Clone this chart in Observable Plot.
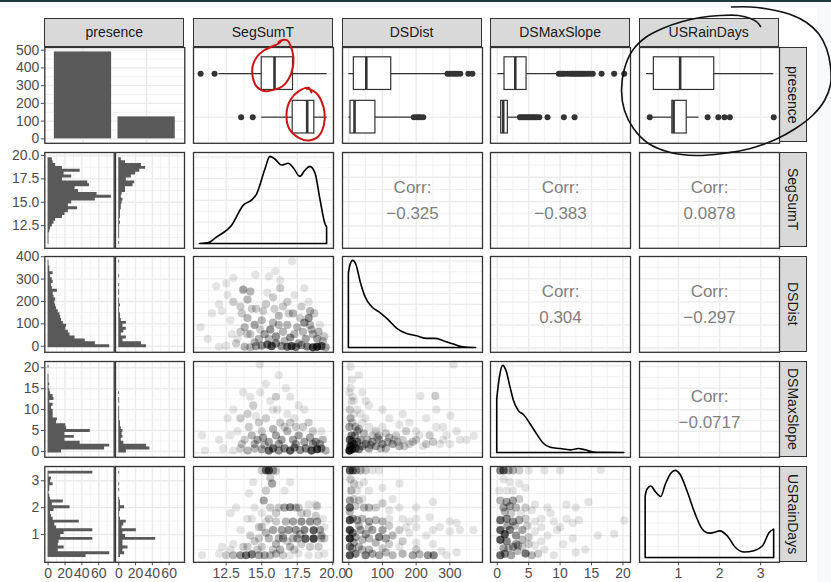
<!DOCTYPE html>
<html>
<head>
<meta charset="utf-8">
<title>ggpairs scatterplot matrix</title>
<script src="https://cdn.jsdelivr.net/npm/d3@7"></script>
<script src="https://cdn.jsdelivr.net/npm/@observablehq/plot@0.6"></script>
<style>
html, body { margin: 0; padding: 0; background: #f8f9fa; overflow: hidden; }
#root { position: absolute; left: 0; top: 0; width: 831px; height: 582px; font-family: "Liberation Sans", Arial, Helvetica, sans-serif; }
#topbar { position: absolute; left: 0; top: 0; width: 831px; height: 2px; background: #1f3a3f; }
#sheet { position: absolute; left: 0; top: 8px; width: 817px; height: 574px; background: #ffffff; }
.strip { position: absolute; box-sizing: border-box; background: #d9d9d9; border: 1.3px solid #333333; display: flex; align-items: center; justify-content: center; font-size: 14px; color: #1a1a1a; }
.strip.v span { writing-mode: vertical-rl; }
</style>
</head>
<body>
<div id="root"><div id="topbar"></div><div id="sheet"></div></div>
<script>
// ---------------- DATA ----------------
const stripLabels = ["presence", "SegSumT", "DSDist", "DSMaxSlope", "USRainDays"];
const variables = ["SegSumT", "DSDist", "DSMaxSlope", "USRainDays"];

// presence bar chart
const presenceLevels = ["0", "1"];
const presenceCounts = [490, 124];

// boxplot stats [lower whisker, q1, median, q3, upper whisker]; first = presence 0, second = presence 1
const boxSegSumT = [[12.0, 15.0, 15.9, 17.2, 19.6], [15.0, 17.18, 18.2, 18.7, 19.6]];
const boxDSDist = [[0.2, 15, 52, 126, 287], [0.2, 5, 17, 79, 188]];
const boxDSMaxSlope = [[0.1, 1.16, 2.87, 4.67, 9.65], [0.1, 0.63, 0.95, 1.69, 3.44]];
const boxUSRainDays = [[0.22, 0.40, 1.04, 1.87, 3.32], [0.30, 0.85, 0.88, 1.20, 1.50]];

// boxplot outliers
const outSegSumT = [[10.7, 11.68], [13.55, 14.37]];
const outDSDist = [[293, 300, 308, 315, 322, 331, 355, 367], [193, 201, 207, 213, 221]];
const outDSMaxSlope = [[9.8, 10.1, 10.4, 10.7, 11.2, 11.6, 11.9, 12.2, 12.5, 12.8, 13.1, 13.4, 13.7, 14.0, 14.4, 14.8, 15.2, 16.6, 18.6, 20.2],
                       [3.6, 3.9, 4.2, 4.5, 4.8, 5.1, 5.4, 5.7, 6.0, 6.3, 6.7, 8.0, 10.6, 12.3]];
const outUSRainDays = [[], [0.30, 1.71, 1.97, 2.12, 2.25, 3.32]];

// histograms (30 bins, ascending), presence 0 and presence 1
const binStart = { SegSumT: 10.65, DSDist: 0.2, DSMaxSlope: 0, USRainDays: 0.2 };
const binWidth = { SegSumT: 0.3086, DSDist: 13.03, DSMaxSlope: 0.6966, USRainDays: 0.1069 };
const histSegSumT0 = [1, 1, 1, 1, 2, 3, 5, 7, 9, 17, 20, 24, 35, 24, 28, 56, 75, 58, 36, 32, 49, 47, 17, 28, 19, 38, 17, 9, 6, 5];
const histSegSumT1 = [1, 0, 1, 1, 1, 1, 1, 2, 1, 2, 2, 2, 3, 3, 4, 5, 3, 4, 8, 8, 17, 19, 9, 15, 20, 25, 32, 27, 8, 3];
const histDSDist0 = [73, 56, 44, 32, 26, 24, 21, 22, 18, 16, 15, 14, 12, 10, 9, 8, 9, 7, 6, 11, 5, 4, 6, 5, 3, 6, 2, 2, 1, 1];
const histDSDist1 = [33, 27, 5, 9, 3, 6, 9, 5, 9, 3, 2, 2, 1, 1, 2, 1, 1, 0, 1, 1, 0, 1, 0, 0, 1, 0, 0, 0, 0, 1];
const histDSMaxSlope0 = [16, 67, 73, 38, 20, 31, 20, 50, 22, 21, 10, 11, 6, 6, 6, 4, 6, 2, 7, 6, 3, 2, 1, 2, 1, 1, 1, 0, 0, 1];
const histDSMaxSlope1 = [9, 37, 33, 6, 3, 5, 4, 5, 3, 2, 2, 1, 1, 1, 1, 1, 0, 1, 1, 0, 1, 0, 0, 0, 0, 0, 0, 0, 0, 0];
const histUSRainDays0 = [45, 73, 12, 19, 12, 13, 53, 15, 19, 53, 10, 8, 37, 6, 4, 3, 7, 26, 5, 18, 3, 2, 1, 2, 2, 6, 3, 4, 1, 53];
const histUSRainDays1 = [2, 7, 5, 11, 5, 5, 44, 8, 5, 21, 4, 6, 9, 2, 1, 1, 2, 7, 2, 2, 1, 0, 0, 1, 0, 1, 0, 0, 0, 1];

// densities [x, density]
const densSegSumT = [[10.65, 0], [11.28, 0.002], [11.87, 0.015], [12.92, 0.042], [13.74, 0.088], [14.33, 0.100], [14.68, 0.114], [15.26, 0.171], [15.61, 0.200], [15.96, 0.194], [16.43, 0.180], [16.90, 0.184], [17.25, 0.174], [17.72, 0.154], [18.07, 0.168], [18.42, 0.177], [18.78, 0.162], [19.13, 0.102], [19.48, 0.046], [19.6, 0.038]];
const densDSDist = [[0.2, 0.00684], [5, 0.0076], [13, 0.008], [23, 0.0076], [35, 0.00608], [50, 0.00464], [69, 0.00376], [94, 0.0032], [119, 0.00253], [144, 0.00176], [173, 0.00128], [203, 0.00107], [233, 0.00083], [257, 0.00083], [282, 0.00062], [312, 0.00031], [341, 0.00006], [378, 0]];
const densDSMaxSlope = [[0, 0.123], [0.42, 0.173], [0.95, 0.2], [1.48, 0.188], [2.12, 0.15], [2.65, 0.12], [3.44, 0.096], [4.24, 0.087], [5.3, 0.066], [6.37, 0.042], [7.42, 0.021], [8.49, 0.012], [10.1, 0.009], [11.67, 0.006], [13.0, 0.009], [14.06, 0.006], [15.4, 0.001], [17.5, 0.0003], [20.2, 0]];
const densUSRainDays = [[0.2, 0.53], [0.24, 0.585], [0.34, 0.615], [0.44, 0.57], [0.58, 0.525], [0.69, 0.63], [0.83, 0.728], [0.93, 0.75], [1.06, 0.71], [1.22, 0.572], [1.42, 0.373], [1.59, 0.244], [1.75, 0.209], [1.87, 0.215], [2.02, 0.229], [2.2, 0.186], [2.4, 0.086], [2.61, 0.047], [2.85, 0.058], [3.06, 0.1], [3.22, 0.215], [3.33, 0.244]];

// scatter points [x, y, overlapping count]
const scatterSegSumT_DSDist = [
  [13.8, 5, 3], [14.2, 3, 3], [14.6, 8, 4], [15.0, 10, 5], [15.4, 15, 8], [15.7, 8, 10], [16.0, 20, 6], [16.4, 8, 5], [16.8, 5, 8], [17.1, 8, 10], [17.4, 4, 7], [17.8, 12, 5], [18.2, 6, 6], [18.6, 3, 12], [18.9, 5, 14], [19.2, 8, 9], [19.5, 3, 4], [14.5, 25, 3], [13.2, 20, 2], [12.5, 10, 1], [12.0, 5, 1],
  [15.2, 60, 4], [15.6, 80, 5], [16.0, 50, 5], [16.5, 70, 3], [17.0, 45, 5], [17.5, 90, 3], [18.0, 110, 5], [18.3, 130, 5], [18.5, 80, 3], [18.9, 40, 4], [19.3, 30, 3], [14.5, 100, 4], [14.0, 130, 3], [13.5, 70, 2], [13.8, 90, 3], [15.0, 120, 3], [16.2, 140, 3], [17.2, 150, 3], [12.8, 120, 1], [12.2, 160, 1], [10.7, 90, 1], [11.5, 150, 1], [16.8, 100, 3], [15.8, 110, 3], [14.8, 40, 3], [18.6, 60, 3], [19.1, 100, 1],
  [13.0, 200, 2], [13.5, 180, 2], [14.0, 210, 3], [13.7, 253, 4], [14.2, 245, 3], [13.0, 304, 1], [11.8, 267, 1], [12.5, 280, 1], [15.3, 190, 2], [15.8, 220, 2], [16.3, 260, 2], [16.8, 200, 2], [17.3, 230, 1], [17.8, 180, 2], [18.4, 160, 3], [14.56, 318, 1], [15.5, 311, 1], [15.96, 333, 1], [17.13, 376, 1], [16.3, 295, 1], [14.6, 170, 2], [12.6, 230, 1], [18.0, 260, 1], [12.0, 190, 1],
  [13.3, 40, 1], [13.6, 150, 2], [14.0, 60, 2], [14.3, 170, 2], [14.9, 80, 2], [15.1, 160, 2], [15.5, 40, 3], [15.9, 170, 2], [16.2, 100, 3], [16.6, 30, 3], [16.9, 150, 2], [17.3, 60, 3], [17.6, 20, 4], [17.9, 70, 3], [18.1, 40, 4], [18.4, 100, 3], [18.7, 150, 2], [19.0, 70, 3], [19.4, 50, 2], [14.2, 60, 2], [12.9, 60, 1], [11.2, 40, 1], [18.3, 200, 1], [17.7, 130, 2], [16.5, 180, 2], [15.4, 240, 1]
];
const scatterSegSumT_DSMaxSlope = [
  [13.5, 1, 2], [14.0, 0.5, 3], [14.5, 1, 3], [15.0, 0.8, 4], [15.5, 0.5, 8], [15.8, 1, 8], [16.2, 0.5, 5], [16.6, 1, 6], [17.0, 0.5, 9], [17.3, 1.2, 6], [17.7, 0.6, 5], [18.1, 1, 6], [18.5, 0.5, 10], [18.9, 0.8, 12], [19.2, 1, 6], [19.5, 0.5, 3], [13.0, 0.5, 1], [12.3, 1, 1], [11.0, 0.5, 1],
  [13.8, 3, 2], [14.3, 4, 3], [14.7, 3, 4], [15.1, 3.5, 4], [15.5, 2.5, 4], [16.0, 4, 4], [16.4, 3, 4], [16.8, 5, 3], [17.2, 3, 4], [17.6, 4, 4], [18.0, 2.5, 4], [18.4, 3.5, 4], [18.8, 2.5, 5], [19.3, 3, 3], [12.8, 4, 1], [13.3, 5, 1], [12.0, 3, 1], [10.8, 4, 1], [15.8, 5.5, 3], [17.9, 6, 2],
  [13.5, 8, 2], [14.0, 9, 2], [14.8, 7, 2], [15.3, 8, 2], [15.8, 10, 1], [16.3, 7, 2], [16.8, 9, 1], [17.3, 8, 1], [18.3, 7, 2], [18.0, 10, 1], [12.6, 8, 1], [13.0, 10, 1], [14.4, 11, 2], [15.6, 12, 1], [17.6, 11, 1],
  [14.2, 13, 1], [14.9, 14, 1], [15.3, 16, 1], [16.0, 13, 2], [16.7, 15, 1], [13.7, 14, 1], [14.86, 20.5, 1], [16.2, 18, 1], [17.0, 13, 1],
  [14.5, 2, 3], [15.2, 1.8, 3], [16.2, 2, 4], [17.4, 2, 4], [18.6, 2, 4], [19.1, 2, 3], [14.1, 6, 2], [16.6, 6, 2], [17.4, 6, 2], [18.6, 5, 2], [19.2, 5, 1], [15.0, 5, 2], [13.6, 2, 2], [16.1, 10, 1], [14.6, 8.5, 1], [17.0, 7, 2]
];
const scatterDSDist_DSMaxSlope = [
  [2, 0.5, 18], [5, 1.5, 14], [10, 0.8, 12], [15, 2, 8], [3, 3, 9], [8, 4, 6], [20, 1, 8], [25, 2.5, 6], [30, 0.8, 6], [35, 3, 4], [40, 1.5, 5], [50, 2, 4], [60, 1, 4], [70, 2.5, 4], [80, 1.5, 4], [90, 3, 3], [100, 2, 4], [110, 1, 3], [120, 3.5, 3], [130, 2, 4], [140, 4, 2], [150, 1.5, 3], [160, 3, 2], [170, 5, 2], [180, 2, 2], [200, 3, 2], [220, 1.5, 1], [240, 4, 2], [250, 2.5, 2], [260, 6, 1], [280, 3, 1], [300, 2, 1], [320, 5, 1], [350, 3, 1], [371, 3.9, 1],
  [2, 6, 4], [5, 8, 3], [10, 7, 2], [3, 10, 2], [8, 12, 1], [15, 9, 1], [20, 6, 3], [30, 5.5, 3], [40, 7, 1], [2, 14, 1], [5, 15, 1], [12, 13, 1], [50, 8, 1], [60, 6, 1], [80, 5, 2], [100, 6, 1], [120, 8, 1], [150, 6.5, 1], [180, 7, 1], [213, 13.2, 1], [257, 13.2, 2], [302, 8.6, 1], [312, 20.5, 1], [60, 11, 1], [30, 18, 1], [5, 20, 1], [230, 8, 1], [280, 6, 1], [200, 5, 1], [110, 4.5, 2], [90, 4, 2], [45, 4.5, 3], [70, 4, 2],
  [10, 2.5, 6], [18, 4, 4], [25, 5, 3], [55, 3, 3], [65, 1.8, 3], [85, 3.5, 3], [95, 1, 3], [115, 2.5, 3], [135, 3, 2], [145, 2.5, 2], [165, 1.5, 2], [190, 2.5, 2], [210, 4, 1], [230, 2, 2], [270, 2, 1], [290, 4, 1], [330, 3, 1], [15, 12, 1], [25, 10, 1], [35, 9, 1], [50, 12, 1], [100, 10, 1], [160, 9, 1], [260, 10, 1], [10, 17, 1], [40, 14, 1]
];
const scatterSegSumT_USRainDays = [
  [10.8, 0.3, 1], [12.0, 0.35, 1], [12.5, 0.3, 2], [13.0, 0.3, 3], [13.5, 0.3, 5], [13.9, 0.3, 7], [14.3, 0.33, 7], [14.8, 0.3, 4], [15.2, 0.3, 4], [15.6, 0.3, 3], [16.0, 0.35, 3], [16.5, 0.3, 2], [17.0, 0.3, 1], [17.6, 0.35, 1], [18.3, 0.3, 1], [19.0, 0.3, 1], [19.4, 0.35, 1],
  [12.2, 0.6, 1], [13.0, 0.7, 1], [14.0, 0.6, 2], [14.5, 0.8, 2], [15.0, 0.6, 2], [15.5, 0.9, 3], [16.0, 0.7, 3], [16.5, 0.9, 4], [17.0, 0.6, 3], [17.5, 0.9, 4], [18.07, 0.89, 9], [18.65, 0.89, 12], [19.2, 0.9, 3], [16.8, 0.8, 2], [17.8, 0.7, 2], [18.4, 0.6, 2], [19.0, 0.6, 2], [15.8, 0.5, 2], [16.3, 0.5, 3], [17.3, 0.5, 2],
  [13.5, 1.2, 1], [14.2, 1.0, 2], [14.8, 1.3, 2], [15.3, 1.1, 3], [15.8, 1.2, 4], [16.4, 1.2, 4], [16.9, 1.2, 5], [17.4, 1.2, 5], [18.0, 1.2, 6], [18.65, 1.19, 9], [19.1, 1.2, 4], [17.2, 1.5, 4], [17.8, 1.5, 5], [18.4, 1.5, 5], [18.9, 1.5, 4], [16.0, 1.5, 2], [15.3, 1.5, 1], [14.3, 1.6, 1], [16.5, 1.0, 2], [17.7, 1.05, 3], [19.4, 1.3, 1],
  [14.5, 2.0, 1], [15.14, 2.25, 4], [15.6, 2.0, 2], [16.2, 2.0, 2], [16.6, 2.0, 4], [17.0, 2.01, 6], [17.4, 2.0, 3], [13.2, 2.0, 1], [12.8, 1.8, 1], [18.3, 2.1, 1], [18.8, 2.1, 1], [16.0, 1.8, 2], [17.8, 1.8, 2], [15.0, 1.8, 1],
  [15.73, 2.85, 4], [15.3, 2.6, 2], [14.4, 2.9, 1], [15.5, 3.32, 10], [15.3, 3.32, 7], [15.8, 3.32, 4], [16.0, 3.3, 2], [15.0, 3.32, 2], [15.6, 3.05, 2],
  [14.0, 1.6, 1], [14.8, 0.9, 2], [15.0, 1.3, 2], [15.5, 1.6, 2], [16.2, 0.9, 3], [16.7, 1.5, 3], [17.2, 0.9, 3], [17.6, 2.0, 2], [18.2, 1.8, 2], [18.8, 1.7, 2], [19.3, 1.6, 1], [19.4, 0.9, 2], [13.7, 0.6, 2], [14.7, 0.5, 2], [12.8, 0.5, 1], [14.1, 2.5, 1], [16.6, 2.6, 1], [17.0, 2.9, 1], [18.9, 2.05, 2], [19.2, 1.0, 3]
];
const scatterDSDist_USRainDays = [
  [3, 3.32, 9], [12, 3.32, 7], [22, 3.32, 4], [35, 3.32, 3], [50, 3.32, 2], [70, 3.32, 1], [90, 3.32, 1],
  [5, 3.0, 2], [15, 2.85, 2], [30, 2.8, 1], [45, 2.9, 1], [150, 2.85, 1], [5, 2.6, 1],
  [3, 2.25, 4], [15, 2.3, 2], [30, 2.25, 2], [45, 2.0, 3], [60, 2.0, 3], [80, 2.0, 2], [100, 2.15, 2], [130, 2.3, 1], [150, 2.0, 1], [200, 2.0, 1], [250, 2.2, 1], [3, 2.0, 8],
  [3, 1.55, 10], [12, 1.6, 4], [25, 1.55, 4], [40, 1.6, 3], [60, 1.5, 4], [80, 1.55, 3], [100, 1.5, 3], [120, 1.6, 1], [200, 1.6, 1], [240, 1.65, 1], [300, 1.5, 1], [320, 1.45, 1], [3, 1.85, 3],
  [3, 1.2, 12], [3, 0.9, 14], [12, 1.1, 6], [20, 0.95, 4], [35, 1.2, 4], [50, 1.05, 4], [70, 1.2, 4], [90, 0.95, 6], [100, 1.2, 4], [110, 0.9, 4], [130, 1.0, 3], [150, 1.2, 2], [180, 1.1, 1], [200, 1.3, 1], [230, 1.0, 1], [270, 1.3, 1], [300, 1.15, 1], [370, 1.2, 1], [60, 0.9, 3], [40, 0.85, 3],
  [3, 0.3, 10], [10, 0.55, 4], [20, 0.35, 6], [30, 0.6, 3], [50, 0.3, 6], [70, 0.35, 4], [90, 0.3, 4], [110, 0.4, 3], [130, 0.3, 3], [160, 0.35, 3], [190, 0.3, 4], [210, 0.33, 3], [235, 0.3, 5], [252, 0.3, 6], [275, 0.45, 1], [3, 0.6, 6], [40, 0.5, 3], [150, 0.6, 1], [290, 0.3, 1],
  [8, 2.6, 2], [25, 2.6, 1], [60, 2.6, 1], [100, 2.7, 1], [20, 2.05, 2], [40, 2.3, 1], [120, 1.9, 1], [160, 1.6, 1], [180, 1.5, 1], [30, 1.35, 3], [60, 1.3, 2], [120, 1.35, 2], [170, 1.3, 1], [250, 1.2, 1], [330, 1.2, 1], [80, 0.75, 3], [120, 0.7, 2], [160, 0.8, 2], [200, 0.75, 1], [250, 0.7, 1], [60, 0.5, 3], [100, 0.55, 2], [200, 0.5, 2], [320, 0.4, 1], [15, 0.75, 4]
];
const scatterDSMaxSlope_USRainDays = [
  [0.5, 3.32, 6], [1.0, 3.32, 8], [1.8, 3.32, 4], [2.5, 3.32, 3], [3.5, 3.32, 2], [5, 3.32, 1], [7.5, 3.32, 1], [10, 3.32, 1], [16.5, 3.34, 1],
  [1, 3.0, 1], [2, 2.9, 1], [3.5, 2.85, 1], [1.5, 2.6, 1], [4.5, 2.7, 1],
  [0.5, 2.25, 3], [1.5, 2.2, 4], [2.5, 2.25, 4], [3.5, 2.3, 2], [1, 2.0, 4], [2, 2.05, 4], [3, 2.0, 3], [4.5, 2.0, 2], [6, 2.1, 1], [8, 2.0, 1], [11, 2.1, 1], [12.5, 2.0, 1], [14.5, 2.2, 1],
  [0.5, 1.55, 8], [1.5, 1.6, 6], [2.5, 1.5, 5], [3.5, 1.55, 4], [4.5, 1.6, 2], [6, 1.5, 1], [7, 1.6, 1], [9, 1.5, 1], [12, 1.45, 1], [13, 1.55, 1], [20.2, 1.54, 1],
  [0.5, 1.2, 9], [1.2, 1.05, 10], [2, 1.2, 6], [3, 1.0, 5], [4, 1.2, 4], [5, 0.95, 2], [6, 1.15, 1], [8, 1.0, 1], [9.5, 1.2, 1], [12, 0.9, 1], [18.6, 1.06, 1], [0.5, 0.85, 10], [1.5, 0.8, 6], [3.0, 0.7, 4], [4.0, 0.85, 3],
  [0.5, 0.3, 8], [1.2, 0.35, 6], [2.2, 0.3, 4], [3.2, 0.45, 3], [4.5, 0.36, 7], [5.5, 0.3, 3], [6.5, 0.35, 2], [7.5, 0.5, 1], [9, 0.3, 1], [12.5, 0.4, 1], [1, 0.55, 4], [2.5, 0.6, 4], [4, 0.6, 2], [6, 0.65, 1],
  [0.3, 2.6, 1], [2.5, 2.6, 1], [1.2, 1.85, 3], [2.2, 1.8, 2], [3.8, 1.8, 1], [5.5, 1.9, 1], [1.6, 1.35, 4], [2.8, 1.35, 3], [4.8, 1.35, 2], [7, 1.3, 1], [10, 1.3, 1], [1.8, 0.55, 3], [3.3, 0.65, 3], [5, 0.7, 2], [7, 0.8, 1], [10.5, 0.7, 1], [14, 0.5, 1], [16, 1.0, 1], [8.5, 1.8, 1], [11, 1.6, 1]
];

// correlations (upper triangle)
const corrRowVar = ["SegSumT", "SegSumT", "SegSumT", "DSDist", "DSDist", "DSMaxSlope"];
const corrColVar = ["DSDist", "DSMaxSlope", "USRainDays", "DSMaxSlope", "USRainDays", "USRainDays"];
const corrValue = [-0.325, -0.383, 0.0878, 0.304, -0.297, -0.0717];

// axis tick labels
const majorTicks = { SegSumT: [12.5, 15, 17.5, 20], DSDist: [0, 100, 200, 300, 400], DSMaxSlope: [0, 5, 10, 15, 20], USRainDays: [1, 2, 3] };
const minorTicks = { SegSumT: [11.25, 13.75, 16.25, 18.75], DSDist: [50, 150, 250, 350], DSMaxSlope: [2.5, 7.5, 12.5, 17.5], USRainDays: [0.5, 1.5, 2.5, 3.5] };
const countTicks = [0, 20, 40, 60];
const countMinor = [10, 30, 50, 70];
const barTicks = [0, 100, 200, 300, 400, 500];
const barMinor = [50, 150, 250, 350, 450];
const densMajor = { SegSumT: [0, 0.05, 0.1, 0.15, 0.2], DSDist: [0, 0.002, 0.004, 0.006, 0.008], DSMaxSlope: [0, 0.05, 0.1, 0.15, 0.2], USRainDays: [0, 0.2, 0.4, 0.6] };
const densMinor = { SegSumT: [0.025, 0.075, 0.125, 0.175], DSDist: [0.001, 0.003, 0.005, 0.007], DSMaxSlope: [0.025, 0.075, 0.125, 0.175], USRainDays: [0.1, 0.3, 0.5, 0.7] };

// scale domains
const varDomain = { SegSumT: [10.2, 20.05], DSDist: [-18.7, 397], DSMaxSlope: [-1.07, 21.2], USRainDays: [0.05, 3.46] };
const histDomain = { SegSumT: [10.08, 20.32], DSDist: [-27, 401], DSMaxSlope: [-1.4, 21.5], USRainDays: [-0.03, 3.53] };
const countDomain = [-3.9, 78.3];
const barDomain = [-25, 515];

// hand-drawn annotations (page pixel units)
const redLoop1 = [[278, 41.5], [282, 39.5], [287, 40], [290, 45], [292.7, 55], [292.3, 66.7], [288.3, 78.3], [281.7, 86], [273.3, 89.3], [265, 90.7], [256.7, 86.7], [252.3, 76.7], [252.3, 65], [256.7, 56], [263.3, 50], [271.7, 46], [278.3, 42.7], [281, 40]];
const redLoop2 = [[311, 92], [308, 87.3], [298.3, 90.7], [290, 99.3], [286, 113.3], [288.7, 128.3], [298.3, 137.3], [308.3, 140], [317.7, 136], [323.3, 125], [324, 111.7], [320.7, 100], [316, 92.7], [310.7, 89.3], [306, 88]];
const blackLoop = [[731, 6.5], [750, 6.5], [770, 9], [790, 14], [806, 22], [818, 33], [826, 48], [830, 66], [830, 84], [824, 100], [812, 115], [795, 128], [775, 139], [750, 148], [722, 153], [695, 155], [670, 152], [648, 143], [633, 128], [624, 110], [621, 90], [624, 68], [632, 50], [645, 37], [662, 28], [682, 21], [700, 17], [720, 15], [738, 15], [750, 18], [757, 22], [760, 26]];

// ---------------- LAYOUT ----------------
const root = document.getElementById("root");
const COL_LEFT = [44.3, 192.9, 341.5, 490.1, 638.7];
const ROW_TOP = [46.7, 151.5, 256.3, 361.1, 465.9];
const PW = 140, PH = 95.8;
const SUB = [[44.3, 69.4], [115.3, 69]];
const GRID = "#ebebeb";
const FONT = '"Liberation Sans", Arial, Helvetica, sans-serif';
const BOTTOM_MARGIN = 22;

const data = {
  box: { SegSumT: boxSegSumT, DSDist: boxDSDist, DSMaxSlope: boxDSMaxSlope, USRainDays: boxUSRainDays },
  out: { SegSumT: outSegSumT, DSDist: outDSDist, DSMaxSlope: outDSMaxSlope, USRainDays: outUSRainDays },
  hist: { SegSumT: [histSegSumT0, histSegSumT1], DSDist: [histDSDist0, histDSDist1], DSMaxSlope: [histDSMaxSlope0, histDSMaxSlope1], USRainDays: [histUSRainDays0, histUSRainDays1] },
  dens: { SegSumT: densSegSumT, DSDist: densDSDist, DSMaxSlope: densDSMaxSlope, USRainDays: densUSRainDays },
  scatter: {
    "SegSumT|DSDist": scatterSegSumT_DSDist, "SegSumT|DSMaxSlope": scatterSegSumT_DSMaxSlope, "DSDist|DSMaxSlope": scatterDSDist_DSMaxSlope,
    "SegSumT|USRainDays": scatterSegSumT_USRainDays, "DSDist|USRainDays": scatterDSDist_USRainDays, "DSMaxSlope|USRainDays": scatterDSMaxSlope_USRainDays
  }
};
const tickFmt = { SegSumT: d3.format(".1f"), DSDist: d3.format("d"), DSMaxSlope: d3.format("d"), USRainDays: d3.format("d") };

const inDom = (ticks, dom) => ticks.filter(t => t >= Math.min(...dom) && t <= Math.max(...dom));
function gridX(major, minor, dom) {
  return [Plot.ruleX(inDom(minor, dom), { stroke: GRID, strokeWidth: 0.7 }), Plot.ruleX(inDom(major, dom), { stroke: GRID, strokeWidth: 1.4 })];
}
function gridY(major, minor, dom) {
  return [Plot.ruleY(inDom(minor, dom), { stroke: GRID, strokeWidth: 0.7 }), Plot.ruleY(inDom(major, dom), { stroke: GRID, strokeWidth: 1.4 })];
}
function axOpt(dom, ticks, fmt, show, extra = {}) {
  return show
    ? { domain: dom, ticks: inDom(ticks, dom), tickFormat: fmt, tickSize: 3.5, tickPadding: 2, label: null, ...extra }
    : { domain: dom, axis: null, ...extra };
}
function makePanel(left, top, w, h, { x, y, marks, ml = 0, mb = 0 }) {
  const svg = Plot.plot({
    width: w + ml + 2, height: h + mb + 2,
    marginLeft: ml + 1, marginRight: 1, marginTop: 1, marginBottom: mb + 1,
    style: { background: "transparent", overflow: "visible", fontFamily: FONT, fontSize: "14px", color: "#4d4d4d" },
    x, y,
    marks: [...marks, Plot.frame({ stroke: "#333333", strokeWidth: 1.3 })]
  });
  svg.style.position = "absolute";
  svg.style.left = (left - ml - 1) + "px";
  svg.style.top = (top - 1) + "px";
  root.appendChild(svg);
}
// staircase outline of a histogram: one vertex pair per bin (bin edges at the bin's count)
function histSteps(counts, v) {
  return counts.flatMap((cnt, k) => [
    [binStart[v] + (k - 0.5) * binWidth[v], cnt],
    [binStart[v] + (k + 0.5) * binWidth[v], cnt]
  ]);
}

// strips
stripLabels.forEach((lab, i) => {
  const t = document.createElement("div");
  t.className = "strip";
  Object.assign(t.style, { left: COL_LEFT[i] + "px", top: "18.3px", width: PW + "px", height: "28.4px" });
  t.textContent = lab;
  root.appendChild(t);
  const r = document.createElement("div");
  r.className = "strip v";
  Object.assign(r.style, { left: "778.7px", top: ROW_TOP[i] + "px", width: "28.6px", height: PH + "px" });
  const s = document.createElement("span");
  s.textContent = lab;
  r.appendChild(s);
  root.appendChild(r);
});

// row 1, col 1: presence bar chart
makePanel(COL_LEFT[0], ROW_TOP[0], PW, PH, {
  ml: COL_LEFT[0],
  x: { domain: [0.4, 2.6], axis: null },
  y: axOpt(barDomain, barTicks, d3.format("d"), true),
  marks: [
    ...gridY(barTicks, barMinor, barDomain),
    Plot.ruleX([1, 2], { stroke: GRID, strokeWidth: 1.4 }),
    Plot.rect(presenceLevels, { x1: (d, i) => i + 1 - 0.45, x2: (d, i) => i + 1 + 0.45, y1: 0, y2: (d, i) => presenceCounts[i], fill: "#595959" })
  ]
});

// row 1: boxplots
variables.forEach((v, j) => {
  const c = j + 1;
  const box = data.box[v];
  const outs = data.out[v].flatMap((vals, g) => vals.map(val => [val, g + 1]));
  makePanel(COL_LEFT[c], ROW_TOP[0], PW, PH, {
    x: { domain: varDomain[v], axis: null },
    y: { domain: [0.4, 2.6], axis: null, reverse: true },
    marks: [
      ...gridX(majorTicks[v], minorTicks[v], varDomain[v]),
      Plot.ruleY([1, 2], { stroke: GRID, strokeWidth: 1.4 }),
      Plot.ruleY(box, { y: (d, i) => i + 1, x1: d => d[0], x2: d => d[1], stroke: "#333333", strokeWidth: 1.2 }),
      Plot.ruleY(box, { y: (d, i) => i + 1, x1: d => d[3], x2: d => d[4], stroke: "#333333", strokeWidth: 1.2 }),
      Plot.rect(box, { x1: d => d[1], x2: d => d[3], y1: (d, i) => i + 1 - 0.375, y2: (d, i) => i + 1 + 0.375, fill: "white", stroke: "#333333", strokeWidth: 1.2 }),
      Plot.ruleX(box, { x: d => d[2], y1: (d, i) => i + 1 - 0.375, y2: (d, i) => i + 1 + 0.375, stroke: "#333333", strokeWidth: 2.6 }),
      Plot.dot(outs, { x: d => d[0], y: d => d[1], r: 3, fill: "#333333", stroke: "none" })
    ]
  });
});

// rows 2-5
variables.forEach((rv, i) => {
  const r = i + 1;
  const isBottom = r === 4;
  const mb = isBottom ? BOTTOM_MARGIN : 0;

  // column 1: histograms by presence (one stepped area each, no stacking)
  data.hist[rv].forEach((counts, g) => {
    const [left, w] = SUB[g];
    makePanel(left, ROW_TOP[r], w, PH, {
      ml: g === 0 ? left : 0,
      mb,
      x: axOpt(countDomain, countTicks, d3.format("d"), isBottom),
      y: axOpt(histDomain[rv], majorTicks[rv], tickFmt[rv], g === 0),
      marks: [
        ...gridX(countTicks, countMinor, countDomain),
        ...gridY(majorTicks[rv], minorTicks[rv], histDomain[rv]),
        Plot.areaX(histSteps(counts, rv), { y: d => d[0], x1: 0, x2: d => d[1], fill: "#595959", curve: "linear" })
      ]
    });
  });

  variables.forEach((cv, j) => {
    const c = j + 1;
    const xo = axOpt(varDomain[cv], majorTicks[cv], tickFmt[cv], isBottom);
    if (c === r) {
      const dens = data.dens[cv];
      const peak = d3.max(dens, d => d[1]);
      const ydom = [-0.05 * peak, 1.05 * peak];
      makePanel(COL_LEFT[c], ROW_TOP[r], PW, PH, {
        mb,
        x: xo,
        y: { domain: ydom, axis: null },
        marks: [
          ...gridX(majorTicks[cv], minorTicks[cv], varDomain[cv]),
          ...gridY(densMajor[cv], densMinor[cv], ydom),
          Plot.areaY(dens, { x: d => d[0], y1: 0, y2: d => d[1], fill: "none", stroke: "black", strokeWidth: 1.6, curve: "monotone-x" })
        ]
      });
    } else if (c < r) {
      const pts = data.scatter[cv + "|" + rv];
      makePanel(COL_LEFT[c], ROW_TOP[r], PW, PH, {
        mb,
        x: xo,
        y: { domain: varDomain[rv], axis: null },
        marks: [
          ...gridX(majorTicks[cv], minorTicks[cv], varDomain[cv]),
          ...gridY(majorTicks[rv], minorTicks[rv], varDomain[rv]),
          Plot.dot(pts, { x: d => d[0], y: d => d[1], r: 4.1, fill: "black", stroke: "none", fillOpacity: d => 1 - Math.pow(0.895, d[2]) })
        ]
      });
    } else {
      const k = corrRowVar.findIndex((a, idx) => a === rv && corrColVar[idx] === cv);
      const val = d3.format(".3r")(corrValue[k]);
      makePanel(COL_LEFT[c], ROW_TOP[r], PW, PH, {
        x: { domain: varDomain[cv], axis: null },
        y: { domain: varDomain[rv], axis: null },
        marks: [
          ...gridX(majorTicks[cv], minorTicks[cv], varDomain[cv]),
          ...gridY(majorTicks[rv], minorTicks[rv], varDomain[rv]),
          Plot.text(["Corr:"], { frameAnchor: "middle", text: d => d, dy: -12.5, fontSize: 17, fill: "#7f7f7f" }),
          Plot.text([val], { frameAnchor: "middle", text: d => d, dy: 13, fontSize: 17, fill: "#7f7f7f" })
        ]
      });
    }
  });
});

// annotation overlay
const overlay = Plot.plot({
  width: 831, height: 582, margin: 0,
  style: { background: "transparent", overflow: "visible" },
  x: { domain: [0, 831], axis: null },
  y: { domain: [0, 582], axis: null, reverse: true },
  marks: [
    Plot.line(redLoop1, { x: d => d[0], y: d => d[1], stroke: "#cc1414", strokeWidth: 2, curve: "catmull-rom" }),
    Plot.line(redLoop2, { x: d => d[0], y: d => d[1], stroke: "#cc1414", strokeWidth: 2, curve: "catmull-rom" }),
    Plot.line(blackLoop, { x: d => d[0], y: d => d[1], stroke: "#111111", strokeWidth: 1.6, curve: "catmull-rom" })
  ]
});
Object.assign(overlay.style, { position: "absolute", left: "0px", top: "0px", pointerEvents: "none" });
root.appendChild(overlay);
</script>
</body>
</html>
